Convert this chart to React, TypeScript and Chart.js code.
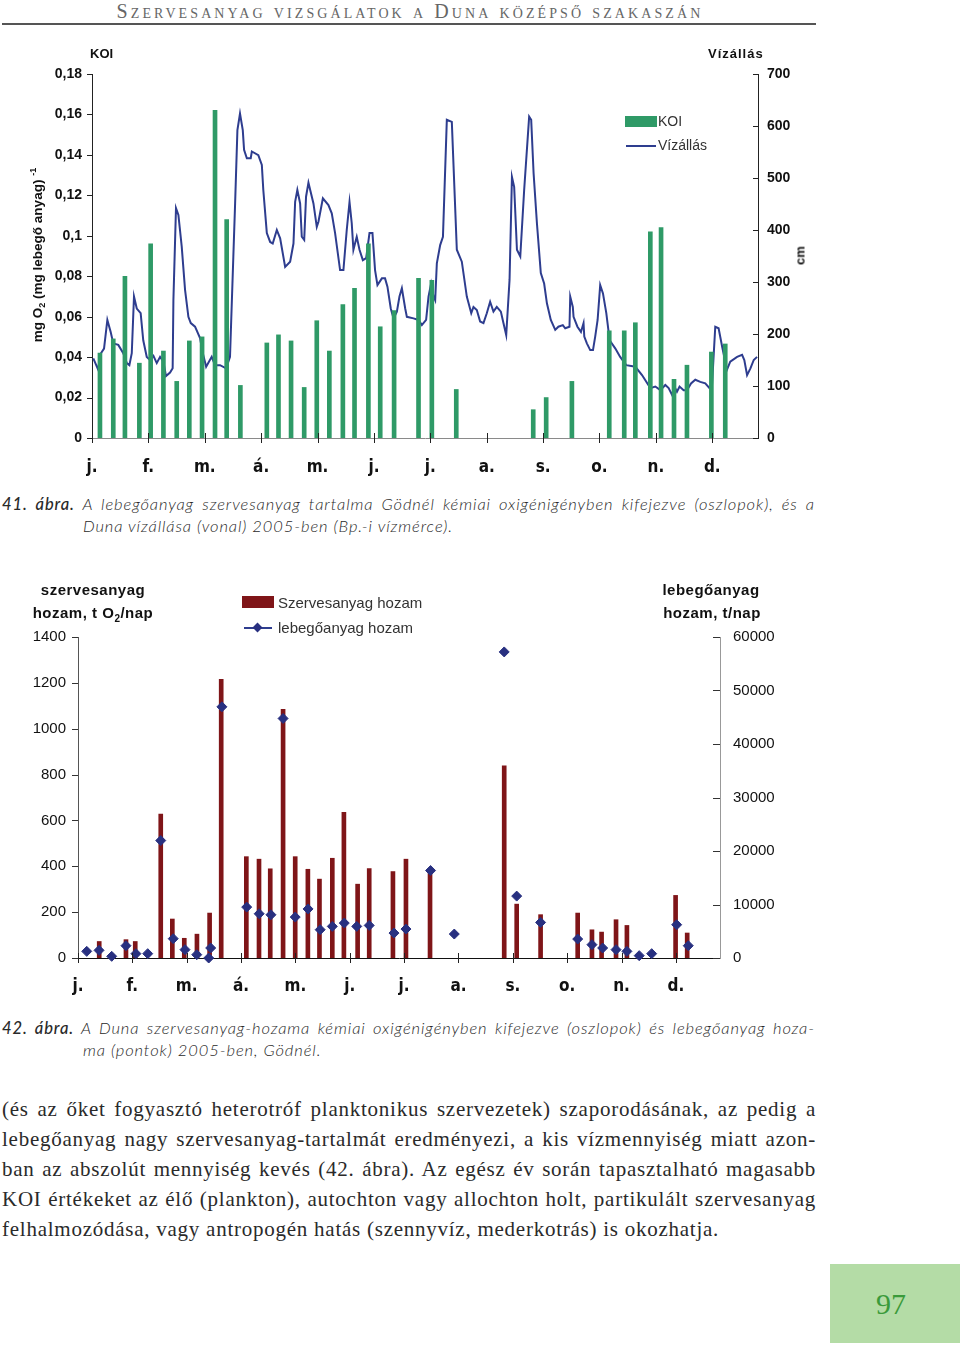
import React, { useEffect, useRef } from "react";
import { Chart, registerables } from "chart.js";

Chart.register(...registerables);

// ---------- shared axis data ----------
const MONTH_LABELS = ["j.", "f.", "m.", "á.", "m.", "j.", "j.", "a.", "s.", "o.", "n.", "d."];
const MONTH_STEP_DAYS = 30.48; // distance between month ticks on the original axes
const AXIS_END_DAY = 360;

// ---------- chart 1 (41. ábra) ----------
const KOI_MAX = 0.18;
const KOI_STEP = 0.02;
const VIZ_MAX = 700;
const VIZ_STEP = 100;

// [day of year, mg O2 / mg lebegőanyag]
const KOI: [number, number][] = [
  [4.3, 0.042], [11.5, 0.049], [17.8, 0.08], [25.6, 0.037], [31.7, 0.096], [38.6, 0.043],
  [45.8, 0.028], [52.6, 0.048], [59.5, 0.05], [66.5, 0.162], [72.8, 0.108], [80.2, 0.026],
  [94.5, 0.047], [100.8, 0.051], [107.6, 0.048], [114.7, 0.025], [121.5, 0.058], [128.3, 0.043],
  [135.6, 0.066], [141.9, 0.074], [149.4, 0.096], [155.8, 0.055], [163.3, 0.063], [176.5, 0.079],
  [183.7, 0.078], [196.9, 0.024], [238.5, 0.014], [245.5, 0.02], [259.4, 0.028], [279.6, 0.053],
  [287.7, 0.053], [293.7, 0.057], [301.8, 0.102], [307.6, 0.104], [314.6, 0.029], [321.6, 0.036],
  [334.8, 0.0425], [342.3, 0.0465],
];

// [day of year, cm]
const VIZALLAS: [number, number][] = [
  [0.7, 153], [3.4, 131], [4.3, 160], [6.5, 172], [8.3, 227], [10.1, 204], [11.5, 182], [14.2, 179],
  [16.9, 163], [18.8, 144], [20.2, 140], [21.5, 163], [22.7, 272], [24.2, 249], [26.3, 240], [27.7, 188],
  [29.6, 156], [31.4, 150], [33.2, 158], [35, 144], [36.8, 156], [38.6, 147], [40, 119], [42.2, 126],
  [43.6, 134], [44, 265], [45.4, 442], [46.7, 429], [48.5, 368], [50.3, 285], [52.1, 233], [53.4, 221],
  [55.7, 214], [58.4, 192], [59.9, 163], [61.7, 137], [64.7, 156], [66.5, 140], [69.2, 140], [72.5, 134],
  [74.6, 156], [76.4, 349], [77.3, 445], [78.6, 592], [80, 624], [81.5, 592], [82.2, 554], [83.7, 538],
  [85.8, 538], [86.4, 551], [89.9, 544], [91.8, 525], [92.6, 477], [94.5, 394], [96.3, 377], [97.7, 374],
  [99.9, 400], [101.7, 384], [104.4, 329], [107.1, 339], [108.9, 374], [109.8, 454], [111, 477], [112.5, 451],
  [113.4, 387], [114.7, 381], [115.7, 464], [117, 491], [119.7, 451], [121.5, 406], [122.4, 416], [124.8, 461],
  [127.8, 448], [129.6, 432], [131.4, 394], [134.1, 323], [135.9, 323], [137.7, 400], [139.2, 454], [140.4, 413],
  [141.3, 362], [143.1, 387], [144.6, 362], [146.4, 342], [148.2, 346], [150, 394], [151.6, 394], [153, 323],
  [154.3, 294], [156.7, 307], [158.4, 307], [159.7, 291], [161.5, 249], [163, 230], [164.8, 243], [166.2, 272],
  [167.5, 288], [169.3, 249], [170.2, 233], [173.8, 230], [176.5, 227], [178.3, 217], [180.6, 227], [181.9, 272],
  [183.3, 297], [184.6, 272], [185.5, 265], [186.4, 336], [188.2, 371], [189.7, 387], [191.8, 612], [194.5, 608],
  [197.2, 362], [199.9, 339], [202.6, 272], [205, 240], [206.2, 252], [208, 246], [209.8, 224], [211.6, 221],
  [213.4, 240], [215.2, 262], [217, 243], [218.8, 252], [221, 243], [222.4, 221], [223.9, 198], [225.7, 304],
  [227, 502], [228.2, 483], [229.7, 362], [231.5, 349], [233.6, 477], [236.3, 618], [237.4, 612], [238.7, 509],
  [240.5, 413], [242.6, 317], [244.4, 297], [245.9, 259], [248, 227], [250.4, 208], [252.1, 214], [254.5, 217],
  [255.8, 211], [258.1, 214], [258.5, 272], [259.9, 252], [260.3, 233], [262.4, 214], [264.3, 204], [265.7, 221],
  [266.1, 195], [267.5, 182], [269.3, 169], [270.8, 169], [272, 195], [273.3, 227], [274.7, 294], [276.2, 278],
  [278, 240], [279.8, 188], [282.9, 172], [285.5, 156], [288.8, 140], [293.7, 137], [297.3, 121], [301.8, 96],
  [304.5, 99], [307.2, 92], [309.9, 102], [311.7, 96], [313.5, 83], [314.8, 99], [316.2, 89], [317.6, 99],
  [319.8, 92], [321.6, 92], [323.8, 105], [326.1, 112], [328.8, 108], [331.5, 105], [333.8, 96], [335.1, 99],
  [336.9, 214], [338.7, 211], [340.6, 176], [343.2, 131], [345, 147], [348.7, 156], [351.4, 160], [352.6, 150],
  [354.1, 121], [355.9, 134], [357.7, 150], [359.5, 156],
];

// ---------- chart 2 (42. ábra) ----------
const SZ_MAX = 1400;
const SZ_STEP = 200;
const LEB_MAX = 60000;
const LEB_STEP = 10000;

// [day of year, t O2/nap]
const SZERVESANYAG: [number, number][] = [
  [11.9, 72], [26.9, 80], [32.1, 72], [46.4, 628], [52.9, 170], [59.6, 86], [66.7, 104], [73.8, 196],
  [80.3, 1215], [94.4, 442], [101.5, 431], [107.8, 389], [115, 1085], [121.8, 442], [128.9, 387],
  [135.4, 344], [142.6, 435], [149.1, 635], [156.8, 322], [163.3, 390], [176.6, 377], [183.9, 431],
  [197.4, 381], [239, 838], [246, 235], [259.4, 189], [280.2, 196], [288.2, 123], [293.6, 113],
  [301.7, 167], [307.8, 142], [335.1, 273], [341.6, 109],
];

// [day of year, t/nap]
const LEBEGOANYAG: [number, number][] = [
  [4.9, 1240], [11.8, 1430], [18.9, 310], [26.9, 2300], [32.5, 810], [39.1, 810], [46.4, 21950],
  [53.4, 3610], [60, 1560], [66.6, 620], [73.3, 0], [74.4, 1870], [80.7, 46950], [94.6, 9510],
  [101.6, 8270], [108.2, 8080], [115, 44770], [121.8, 7650], [129, 9170], [135.8, 5290], [142.6, 5910],
  [149.3, 6530], [156.3, 5910], [163.3, 6090], [177.2, 4660], [183.9, 5410], [197.7, 16350], [211, 4480],
  [239, 57210], [246, 11570], [259.4, 6650], [280.2, 3540], [288.2, 2490], [294.2, 1870], [301.7, 1560],
  [307.8, 1240], [314.7, 440], [321.7, 810], [335.7, 6220], [342.2, 2300],
];

// ---------- styles ----------
const GREEN = "#2f9a67";
const NAVY = "#2e3d8f";
const DARK_RED = "#7f1518";
const DIAMOND = "#283080";
const SANS = "'Liberation Sans', Arial, sans-serif";
const NARROW = "'Liberation Sans Narrow', 'DejaVu Sans Condensed', 'Arial Narrow', sans-serif";

type TickSpec = { id: string; inner: number; outer: number; color: string };

const tickMarksPlugin = {
  id: "tickMarks",
  afterDraw(chart: any, _args: any, opts: any) {
    const specs: TickSpec[] = (opts && opts.specs) || [];
    const ctx = chart.ctx;
    const area = chart.chartArea;
    ctx.save();
    ctx.lineWidth = 1;
    for (const s of specs) {
      const scale = chart.scales[s.id];
      if (!scale) continue;
      ctx.strokeStyle = s.color;
      ctx.beginPath();
      for (const t of scale.ticks) {
        const p = Math.round(scale.getPixelForValue(t.value)) + 0.5;
        if (scale.isHorizontal()) {
          const y = Math.round(area.bottom);
          ctx.moveTo(p, y - s.inner);
          ctx.lineTo(p, y + s.outer);
        } else if (scale.position === "left") {
          const x = Math.round(area.left);
          ctx.moveTo(x - s.outer, p);
          ctx.lineTo(x + s.inner, p);
        } else {
          const x = Math.round(area.right);
          ctx.moveTo(x - s.inner, p);
          ctx.lineTo(x + s.outer, p);
        }
      }
      ctx.stroke();
    }
    ctx.restore();
  },
};

const commaNum = (v: number) => String(Math.round(v * 1000) / 1000).replace(".", ",");

function monthAxis(borderColor: string, padding: number, height: number) {
  return {
    type: "linear",
    min: 0,
    max: AXIS_END_DAY,
    offset: false,
    afterBuildTicks: (s: any) => {
      s.ticks = MONTH_LABELS.map((_, i) => ({ value: i * MONTH_STEP_DAYS }));
    },
    afterFit: (s: any) => {
      s.height = height;
    },
    ticks: {
      autoSkip: false,
      maxRotation: 0,
      minRotation: 0,
      padding,
      color: "#111",
      font: { family: NARROW, size: 17, weight: "bold" },
      callback: (_v: any, i: number) => MONTH_LABELS[i],
    },
    grid: { display: false, drawTicks: false },
    border: { display: true, color: borderColor, width: 1 },
  };
}

function KoiChart() {
  const ref = useRef<HTMLCanvasElement>(null);
  useEffect(() => {
    if (!ref.current) return;
    const chart = new Chart(ref.current, {
      type: "bar",
      data: {
        datasets: [
          {
            type: "bar",
            label: "KOI",
            data: KOI.map(([d, v]) => ({ x: d, y: v })),
            xAxisID: "x",
            yAxisID: "y",
            backgroundColor: GREEN,
            barThickness: 4,
            order: 1,
          } as any,
          {
            type: "line",
            label: "Vízállás",
            data: VIZALLAS.map(([d, v]) => ({ x: d, y: v })),
            xAxisID: "x",
            yAxisID: "y2",
            borderColor: NAVY,
            borderWidth: 2,
            pointRadius: 0,
            tension: 0,
            order: 2,
          } as any,
        ],
      },
      options: {
        responsive: false,
        animation: false,
        layout: { padding: { top: 34, left: 0, right: 0, bottom: 0 } },
        plugins: {
          legend: { display: false },
          tooltip: { enabled: false },
          tickMarks: {
            specs: [
              { id: "y", inner: 0, outer: 5, color: "#222" },
              { id: "y2", inner: 5, outer: 0, color: "#222" },
              { id: "x", inner: 5, outer: 5, color: "#222" },
            ],
          },
        } as any,
        scales: {
          x: monthAxis("#8a8a8a", 19, 42) as any,
          y: {
            type: "linear",
            position: "left",
            min: 0,
            max: KOI_MAX,
            afterFit: (s: any) => {
              s.width = 92;
            },
            ticks: {
              stepSize: KOI_STEP,
              padding: 10,
              color: "#111",
              font: { family: SANS, size: 14, weight: "bold" },
              callback: (v: any) => commaNum(Number(v)),
            },
            grid: { display: false, drawTicks: false },
            border: { display: true, color: "#222", width: 1 },
          },
          y2: {
            type: "linear",
            position: "right",
            min: 0,
            max: VIZ_MAX,
            afterFit: (s: any) => {
              s.width = 72;
            },
            ticks: {
              stepSize: VIZ_STEP,
              padding: 9,
              color: "#111",
              font: { family: SANS, size: 14, weight: "bold" },
              callback: (v: any) => String(v),
            },
            grid: { display: false, drawTicks: false },
            border: { display: true, color: "#222", width: 1 },
          },
        },
      } as any,
      plugins: [tickMarksPlugin as any],
    });
    return () => chart.destroy();
  }, []);
  return <canvas ref={ref} width={830} height={440} style={{ position: "absolute", left: 0, top: 40, width: 830, height: 440 }} />;
}

function HozamChart() {
  const ref = useRef<HTMLCanvasElement>(null);
  useEffect(() => {
    if (!ref.current) return;
    const chart = new Chart(ref.current, {
      type: "bar",
      data: {
        datasets: [
          {
            type: "bar",
            label: "Szervesanyag hozam",
            data: SZERVESANYAG.map(([d, v]) => ({ x: d, y: v })),
            xAxisID: "x",
            yAxisID: "y",
            backgroundColor: DARK_RED,
            barThickness: 4,
            order: 2,
          } as any,
          {
            type: "line",
            label: "lebegőanyag hozam",
            data: LEBEGOANYAG.map(([d, v]) => ({ x: d, y: v })),
            xAxisID: "x",
            yAxisID: "y2",
            showLine: false,
            pointStyle: "rectRot",
            pointRadius: 5,
            pointBorderWidth: 1,
            pointBackgroundColor: DIAMOND,
            pointBorderColor: DIAMOND,
            clip: false,
            order: 1,
          } as any,
        ],
      },
      options: {
        responsive: false,
        animation: false,
        layout: { padding: { top: 67, left: 0, right: 0, bottom: 0 } },
        plugins: {
          legend: { display: false },
          tooltip: { enabled: false },
          tickMarks: {
            specs: [
              { id: "y", inner: 0, outer: 6, color: "#333" },
              { id: "y2", inner: 7, outer: 0, color: "#333" },
              { id: "x", inner: 5, outer: 5, color: "#222" },
            ],
          },
        } as any,
        scales: {
          x: monthAxis("#111", 18, 42) as any,
          y: {
            type: "linear",
            position: "left",
            min: 0,
            max: SZ_MAX,
            afterFit: (s: any) => {
              s.width = 78;
            },
            ticks: {
              stepSize: SZ_STEP,
              padding: 12,
              color: "#111",
              font: { family: SANS, size: 15 },
              callback: (v: any) => String(v),
            },
            grid: { display: false, drawTicks: false },
            border: { display: true, color: "#555", width: 1 },
          },
          y2: {
            type: "linear",
            position: "right",
            min: 0,
            max: LEB_MAX,
            afterFit: (s: any) => {
              s.width = 110;
            },
            ticks: {
              stepSize: LEB_STEP,
              padding: 13,
              color: "#111",
              font: { family: SANS, size: 15 },
              callback: (v: any) => String(v),
            },
            grid: { display: false, drawTicks: false },
            border: { display: true, color: "#999", width: 1 },
          },
        },
      } as any,
      plugins: [tickMarksPlugin as any],
    });
    return () => chart.destroy();
  }, []);
  return <canvas ref={ref} width={830} height={430} style={{ position: "absolute", left: 0, top: 570, width: 830, height: 430 }} />;
}

const abs = (left: number, top: number, extra: React.CSSProperties = {}): React.CSSProperties => ({
  position: "absolute",
  left,
  top,
  whiteSpace: "nowrap",
  ...extra,
});

const CAPTION_FONT = "Lato, 'Open Sans', sans-serif";
const BODY_FONT = "'Liberation Serif', 'Times New Roman', serif";

function JustLine({ top, left, width, children, style }: any) {
  return (
    <div
      style={{
        position: "absolute",
        left,
        top,
        width,
        textAlign: "justify",
        textAlignLast: "justify",
        ...style,
      }}
    >
      {children}
    </div>
  );
}

export default function App() {
  const captionStyle: React.CSSProperties = {
    fontFamily: CAPTION_FONT,
    fontStyle: "italic",
    fontWeight: 300,
    fontSize: 16.5,
    letterSpacing: 0.9,
    lineHeight: "20px",
    color: "#2a2a2a",
  };
  const bodyStyle: React.CSSProperties = {
    fontFamily: BODY_FONT,
    fontSize: 21,
    letterSpacing: 0.75,
    lineHeight: "30px",
    color: "#2a2a2a",
  };
  const bold13: React.CSSProperties = { fontFamily: SANS, fontWeight: "bold", fontSize: 13, color: "#111" };
  const head15: React.CSSProperties = { fontFamily: SANS, fontWeight: "bold", fontSize: 15, color: "#111", letterSpacing: 0.5 };
  const legend14: React.CSSProperties = { fontFamily: SANS, fontSize: 14, color: "#333", lineHeight: "16px" };
  const legend15: React.CSSProperties = { fontFamily: SANS, fontSize: 15, color: "#333", lineHeight: "18px" };
  const bodyLines = [
    "(és az őket fogyasztó heterotróf planktonikus szervezetek) szaporodásának, az pedig a",
    "lebegőanyag nagy szervesanyag-tartalmát eredményezi, a kis vízmennyiség miatt azon-",
    "ban az abszolút mennyiség kevés (42. ábra). Az egész év során tapasztalható magasabb",
    "KOI értékeket az élő (plankton), autochton vagy allochton holt, partikulált szervesanyag",
  ];
  return (
    <div style={{ position: "absolute", left: 0, top: 0, width: 960, height: 1347, background: "#fff", overflow: "hidden" }}>
      {/* running header */}
      <div
        style={abs(0, 0, {
          width: 820,
          textAlign: "center",
          fontFamily: BODY_FONT,
          fontVariant: "small-caps",
          fontSize: 20,
          letterSpacing: 3.1,
          color: "#666",
          lineHeight: "22px",
        })}
      >
        Szervesanyag vizsgálatok a Duna középső szakaszán
      </div>
      <div style={abs(2, 23, { width: 814, height: 2, background: "#555" })} />

      {/* chart 1 */}
      <KoiChart />
      <div style={abs(90, 46, bold13)}>KOI</div>
      <div style={abs(708, 46, { ...bold13, letterSpacing: 1 })}>Vízállás</div>
      <div
        style={abs(37 - 110, 255 - 9, {
          ...bold13,
          fontSize: 13.5,
          width: 220,
          height: 18,
          textAlign: "center",
          transform: "rotate(-90deg)",
        })}
      >
        mg O<sub style={{ fontSize: 9 }}>2</sub> (mg lebegő anyag) <sup style={{ fontSize: 9 }}>-1</sup>
      </div>
      <div style={abs(800 - 15, 257 - 9, { ...bold13, width: 30, textAlign: "center", transform: "rotate(-90deg)" })}>cm</div>
      <div style={abs(625, 116, { width: 32, height: 11, background: GREEN })} />
      <div style={abs(658, 113, legend14)}>KOI</div>
      <div style={abs(626, 145, { width: 30, height: 2, background: NAVY })} />
      <div style={abs(658, 137, legend14)}>Vízállás</div>

      {/* caption 41 */}
      <JustLine top={494} left={2} width={813} style={captionStyle}>
        <span style={{ fontWeight: 500 }}>41. ábra.</span> A lebegőanyag szervesanyag tartalma Gödnél kémiai oxigénigényben kifejezve (oszlopok), és a
      </JustLine>
      <div style={abs(83, 516, captionStyle)}>Duna vízállása (vonal) 2005-ben (Bp.-i vízmérce).</div>

      {/* chart 2 */}
      <HozamChart />
      <div style={abs(93 - 70, 581, { ...head15, width: 140, textAlign: "center" })}>szervesanyag</div>
      <div style={abs(93 - 70, 604, { ...head15, width: 140, textAlign: "center" })}>
        hozam, t O<sub style={{ fontSize: 10 }}>2</sub>/nap
      </div>
      <div style={abs(711 - 70, 581, { ...head15, width: 140, textAlign: "center" })}>lebegőanyag</div>
      <div style={abs(712 - 70, 604, { ...head15, width: 140, textAlign: "center" })}>hozam, t/nap</div>
      <div style={abs(242, 596, { width: 32, height: 12, background: DARK_RED })} />
      <div style={abs(278, 594, legend15)}>Szervesanyag hozam</div>
      <div style={abs(244, 627, { width: 28, height: 1.5, background: NAVY })} />
      <div style={abs(254, 624, { width: 7, height: 7, background: DIAMOND, transform: "rotate(45deg)" })} />
      <div style={abs(278, 619, legend15)}>lebegőanyag hozam</div>

      {/* caption 42 */}
      <JustLine top={1018} left={2} width={813} style={captionStyle}>
        <span style={{ fontWeight: 500 }}>42. ábra.</span> A Duna szervesanyag-hozama kémiai oxigénigényben kifejezve (oszlopok) és lebegőanyag hoza-
      </JustLine>
      <div style={abs(83, 1040, captionStyle)}>ma (pontok) 2005-ben, Gödnél.</div>

      {/* body text */}
      {bodyLines.map((t, i) => (
        <JustLine key={i} top={1094 + i * 30} left={2} width={814} style={bodyStyle}>
          {t}
        </JustLine>
      ))}
      <div style={abs(2, 1094 + 4 * 30, bodyStyle)}>
        felhalmozódása, vagy antropogén hatás (szennyvíz, mederkotrás) is okozhatja.
      </div>

      {/* page number */}
      <div style={abs(830, 1264, { width: 130, height: 79, background: "#b4dca6" })} />
      <div
        style={abs(830, 1264, {
          width: 122,
          height: 79,
          lineHeight: "79px",
          textAlign: "center",
          fontFamily: BODY_FONT,
          fontSize: 30,
          color: "#3a9a3a",
        })}
      >
        97
      </div>
    </div>
  );
}
